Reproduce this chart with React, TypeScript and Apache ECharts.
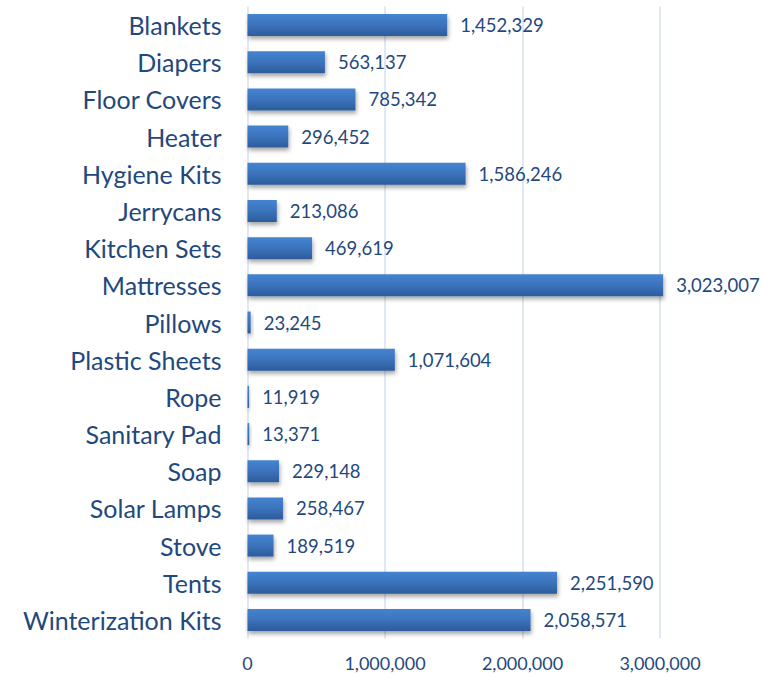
import React, { useEffect, useRef } from "react";
import * as echarts from "echarts";

const categories = [
  "Blankets",
  "Diapers",
  "Floor Covers",
  "Heater",
  "Hygiene Kits",
  "Jerrycans",
  "Kitchen Sets",
  "Mattresses",
  "Pillows",
  "Plastic Sheets",
  "Rope",
  "Sanitary Pad",
  "Soap",
  "Solar Lamps",
  "Stove",
  "Tents",
  "Winterization Kits",
];

const values = [
  1452329, 563137, 785342, 296452, 1586246, 213086, 469619, 3023007, 23245,
  1071604, 11919, 13371, 229148, 258467, 189519, 2251590, 2058571,
];

const xTicks = { min: 0, max: 3000000, interval: 1000000 };

const fmt = (v: number) => v.toLocaleString("en-US");

export default function App() {
  const ref = useRef<HTMLDivElement>(null);
  useEffect(() => {
    document.body.style.margin = "0";
    if (!ref.current) return;
    const chart = echarts.init(ref.current, null, { renderer: "svg" });
    const textColor = "#1F497D";
    chart.setOption({
      animation: false,
      backgroundColor: "#ffffff",
      grid: { left: 247.5, width: 412.5, top: 6.5, height: 632, containLabel: false },
      xAxis: {
        type: "value",
        min: xTicks.min,
        max: xTicks.max,
        interval: xTicks.interval,
        axisLine: { show: false },
        axisTick: { show: false },
        splitLine: { show: true, lineStyle: { color: "#D5E1F1", width: 1.5 } },
        axisLabel: {
          color: textColor,
          fontFamily: "Lato",
          fontSize: 18,
          margin: 15,
          formatter: (v: number) => fmt(v),
        },
      },
      yAxis: {
        type: "category",
        data: categories,
        inverse: true,
        axisLine: { show: false },
        axisTick: { show: false },
        axisLabel: {
          color: textColor,
          fontFamily: "Lato",
          fontSize: 25,
          margin: 26,
          padding: [0, 0, 5, 0],
        },
      },
      series: [
        {
          type: "bar",
          data: values,
          barWidth: 22,
          clip: false,
          itemStyle: {
            color: new echarts.graphic.LinearGradient(0, 0, 0, 1, [
              { offset: 0, color: "#4584D0" },
              { offset: 0.5, color: "#3B73BC" },
              { offset: 1, color: "#2C5C9B" },
            ]),
            shadowColor: "rgba(0,0,0,0.35)",
            shadowBlur: 4,
            shadowOffsetX: 1,
            shadowOffsetY: 3,
          },
          label: {
            show: true,
            position: "right",
            distance: 13,
            color: textColor,
            fontFamily: "Lato",
            fontSize: 18.5,
            formatter: (p: any) => fmt(p.value),
          },
        },
      ],
    });
    return () => chart.dispose();
  }, []);
  return <div ref={ref} style={{ width: 763, height: 676 }} />;
}
